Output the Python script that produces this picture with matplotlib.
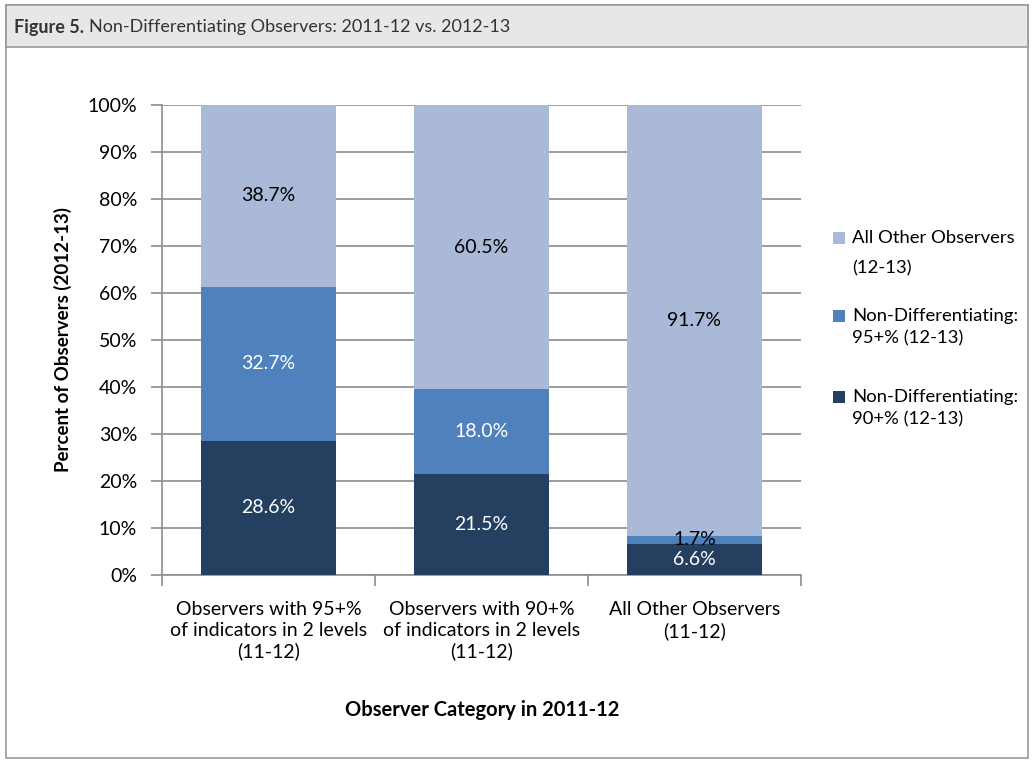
import matplotlib.pyplot as plt
from matplotlib.patches import Rectangle
import numpy as np

plt.rcParams['font.family'] = ['Lato', 'DejaVu Sans']

# data
categories = ["Observers with 95+%\nof indicators in 2 levels\n(11-12)",
              "Observers with 90+%\nof indicators in 2 levels\n(11-12)",
              "All Other Observers\n(11-12)"]
nd90 = [28.6, 21.5, 6.6]
nd95 = [32.7, 18.0, 1.7]
others = [38.7, 60.5, 91.7]
series_names = ["Non-Differentiating:\n90+% (12-13)",
                "Non-Differentiating:\n95+% (12-13)",
                "All Other Observers\n(12-13)"]
colors = ["#243f60", "#4f81bd", "#aab9d7"]
text_colors = ["white", "white", "black"]

W, H = 1034, 761
fig = plt.figure(figsize=(W / 100, H / 100), dpi=100)


def px(x, y):
    """pixel (from top-left) -> figure fraction"""
    return x / W, 1 - y / H


# outer frame and header band
fig.patches.append(Rectangle((6 / W, 3 / H), 1022 / W, 753 / H, transform=fig.transFigure,
                             facecolor="white", edgecolor="#9a9a9a", lw=1.2, zorder=-2))
fig.patches.append(Rectangle(px(6, 47), 1022 / W, 42 / H, transform=fig.transFigure,
                             facecolor="#e6e7e8", edgecolor="#9a9a9a", lw=1.2, zorder=-1))
t1 = fig.text(*px(14, 27), "Figure 5.", fontsize=13, va="center", ha="left",
              fontweight="bold", color="#333333")
fig.canvas.draw()
bb = t1.get_window_extent()
fig.text((bb.x1 + 5) / W, 1 - 27 / H, "Non-Differentiating Observers: 2011-12 vs. 2012-13",
         fontsize=13, va="center", ha="left", color="#333333")

ax = fig.add_axes([162 / W, 1 - 575 / H, 639 / W, 470 / H])
ax.patch.set_alpha(0)
x = np.arange(len(categories))
width = 0.63
bottom = np.zeros(len(categories))
for vals, col, tc in zip([nd90, nd95, others], colors, text_colors):
    vals = np.array(vals)
    ax.bar(x, vals, width, bottom=bottom, color=col, zorder=3)
    for xi, v, bt in zip(x, vals, bottom):
        c = "black" if v < 5 else tc
        ax.text(xi, bt + v / 2, f"{v:.1f}%", ha="center", va="center",
                color=c, fontsize=14, zorder=4)
    bottom += vals

ax.set_xlim(-0.5, 2.5)
ax.set_ylim(0, 100)
ax.set_yticks(np.arange(0, 101, 10))
ax.set_yticklabels([f"{v}%" for v in range(0, 101, 10)], fontsize=14)
ax.yaxis.grid(True, color="#8c8c8c", lw=1.2, zorder=0)
ax.set_xticks(x)
ax.set_xticklabels(categories, fontsize=14, linespacing=1.25)
ax.set_xticks([-0.5, 0.5, 1.5, 2.5], minor=True)
ax.tick_params(axis="x", which="major", length=0, pad=19)
ax.tick_params(axis="x", which="minor", length=8, color="#8c8c8c", width=1.2)
ax.tick_params(axis="y", length=8, color="#8c8c8c", width=1.2, pad=10)
for s in ["top", "right"]:
    ax.spines[s].set_visible(False)
for s in ["left", "bottom"]:
    ax.spines[s].set_color("#8c8c8c")
    ax.spines[s].set_linewidth(1.2)

ax.set_ylabel("Percent of Observers (2012-13)", fontsize=13.5, fontweight="bold", labelpad=11)
fig.text(*px(482, 710), "Observer Category in 2011-12", fontsize=14.5,
         fontweight="bold", ha="center", va="center")

# legend (top to bottom: others, 95+, 90+)
leg_y = [238, 316, 397]
leg_gap = [30, 22, 22]
for name, col, y0, gap in zip(series_names[::-1], colors[::-1], leg_y, leg_gap):
    fig.patches.append(Rectangle(px(833, y0 + 6), 12 / W, 12 / H, transform=fig.transFigure,
                                 facecolor=col, edgecolor="none"))
    for j, line in enumerate(name.split("\n")):
        fig.text(*px(852, y0 + j * gap), line, fontsize=13.3, ha="left", va="center")

fig.savefig("out.png", dpi=100)
